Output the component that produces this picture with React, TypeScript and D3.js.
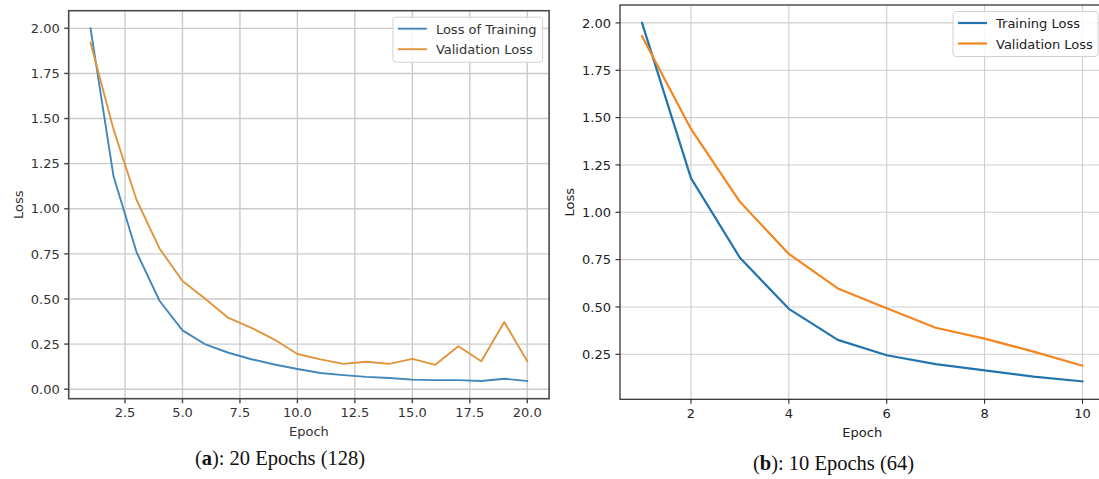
import React from "react";
import * as d3 from "d3";

// ---------- data ----------
const epochs20 = [1, 2, 3, 4, 5, 6, 7, 8, 9, 10, 11, 12, 13, 14, 15, 16, 17, 18, 19, 20];
const trainLoss20 = [2.0, 1.18, 0.76, 0.49, 0.326, 0.248, 0.202, 0.166, 0.137, 0.112, 0.09, 0.078, 0.068, 0.062, 0.053, 0.05, 0.05, 0.045, 0.058, 0.045];
const valLoss20 = [1.92, 1.44, 1.05, 0.78, 0.6, 0.5, 0.395, 0.34, 0.275, 0.195, 0.165, 0.14, 0.152, 0.14, 0.168, 0.135, 0.238, 0.155, 0.372, 0.155];
const xTicks20 = [2.5, 5.0, 7.5, 10.0, 12.5, 15.0, 17.5, 20.0];
const yTicks20 = [0, 0.25, 0.5, 0.75, 1.0, 1.25, 1.5, 1.75, 2.0];
const legend20 = ["Loss of Training", "Validation Loss"];

const epochs10 = [1, 2, 3, 4, 5, 6, 7, 8, 9, 10];
const trainLoss10 = [2.0, 1.18, 0.76, 0.49, 0.326, 0.245, 0.198, 0.165, 0.132, 0.107];
const valLoss10 = [1.93, 1.44, 1.055, 0.78, 0.598, 0.493, 0.39, 0.333, 0.264, 0.19];
const xTicks10 = [2, 4, 6, 8, 10];
const yTicks10 = [0.25, 0.5, 0.75, 1.0, 1.25, 1.5, 1.75, 2.0];
const legend10 = ["Training Loss", "Validation Loss"];

const FONT = "'DejaVu Sans', sans-serif";
const SERIF = "'Liberation Serif', 'Times New Roman', serif";

type Props = {
  epochs: number[];
  train: number[];
  val: number[];
  xTicks: number[];
  yTicks: number[];
  xFmt: string;
  legend: string[];
  box: { left: number; right: number; top: number; bottom: number };
  colors: { train: string; val: string; text: string; spine: string; grid: string };
  lw: number;
  spineW: number;
  gridW: number;
  legendW: number;
  yLabelX: number;
  xLabelY: number;
  captionX: number;
  captionY: number;
  captionTag: string;
  captionRest: string;
  clipId: string;
};

function pad(min: number, max: number): [number, number] {
  const s = max - min;
  return [min - 0.05 * s, max + 0.05 * s];
}

function LossChart(p: Props) {
  const { box, colors } = p;
  const all = p.train.concat(p.val);
  const x = d3
    .scaleLinear()
    .domain(pad(d3.min(p.epochs)!, d3.max(p.epochs)!))
    .range([box.left, box.right]);
  const y = d3
    .scaleLinear()
    .domain(pad(d3.min(all)!, d3.max(all)!))
    .range([box.bottom, box.top]);
  const line = d3
    .line<number>()
    .x((_, i) => x(p.epochs[i]))
    .y((d) => y(d));
  const xf = d3.format(p.xFmt);
  const yf = d3.format(".2f");
  const tickLen = 4.5;
  const lgRight = box.right - 6.5;
  const lgTop = box.top + 6.5;
  const lgLeft = lgRight - p.legendW;
  const rows = [lgTop + 11.5, lgTop + 32];
  return (
    <g>
      <defs>
        <clipPath id={p.clipId}>
          <rect x={box.left} y={box.top} width={box.right - box.left} height={box.bottom - box.top} />
        </clipPath>
      </defs>
      {/* grid */}
      {p.xTicks.map((t) => (
        <line key={"gx" + t} x1={x(t)} x2={x(t)} y1={box.top} y2={box.bottom} stroke={colors.grid} strokeWidth={p.gridW} />
      ))}
      {p.yTicks.map((t) => (
        <line key={"gy" + t} x1={box.left} x2={box.right} y1={y(t)} y2={y(t)} stroke={colors.grid} strokeWidth={p.gridW} />
      ))}
      {/* series */}
      <g clipPath={`url(#${p.clipId})`}>
        <path d={line(p.train)!} fill="none" stroke={colors.train} strokeWidth={p.lw} strokeLinejoin="round" strokeLinecap="square" />
        <path d={line(p.val)!} fill="none" stroke={colors.val} strokeWidth={p.lw} strokeLinejoin="round" strokeLinecap="square" />
      </g>
      {/* frame */}
      <rect x={box.left} y={box.top} width={box.right - box.left} height={box.bottom - box.top} fill="none" stroke={colors.spine} strokeWidth={p.spineW} />
      {/* x ticks */}
      {p.xTicks.map((t) => (
        <g key={"xt" + t}>
          <line x1={x(t)} x2={x(t)} y1={box.bottom} y2={box.bottom + tickLen} stroke={colors.spine} strokeWidth={p.spineW * 0.9} />
          <text x={x(t)} y={box.bottom + 18.5} textAnchor="middle" fontFamily={FONT} fontSize={13} fill={colors.text}>
            {xf(t)}
          </text>
        </g>
      ))}
      {/* y ticks */}
      {p.yTicks.map((t) => (
        <g key={"yt" + t}>
          <line x1={box.left - tickLen} x2={box.left} y1={y(t)} y2={y(t)} stroke={colors.spine} strokeWidth={p.spineW * 0.9} />
          <text x={box.left - 9} y={y(t) + 4.7} textAnchor="end" fontFamily={FONT} fontSize={13} fill={colors.text}>
            {yf(t)}
          </text>
        </g>
      ))}
      {/* axis labels */}
      <text x={(box.left + box.right) / 2} y={p.xLabelY} textAnchor="middle" fontFamily={FONT} fontSize={13} fill={colors.text}>
        Epoch
      </text>
      <text
        transform={`translate(${p.yLabelX},${(box.top + box.bottom) / 2}) rotate(-90)`}
        textAnchor="middle"
        fontFamily={FONT}
        fontSize={13}
        fill={colors.text}
      >
        Loss
      </text>
      {/* legend */}
      <rect x={lgLeft} y={lgTop} width={p.legendW} height={45} rx={3} fill="white" fillOpacity={0.85} stroke="#d2d2d2" strokeWidth={1} />
      {[colors.train, colors.val].map((c, i) => (
        <g key={"lg" + i}>
          <line x1={lgLeft + 5} x2={lgLeft + 34} y1={rows[i]} y2={rows[i]} stroke={c} strokeWidth={p.lw} />
          <text x={lgLeft + 43} y={rows[i] + 5} fontFamily={FONT} fontSize={13} fill={colors.text}>
            {p.legend[i]}
          </text>
        </g>
      ))}
      {/* caption */}
      <text x={p.captionX} y={p.captionY} textAnchor="middle" fontFamily={SERIF} fontSize={20.5} fill="#111">
        (<tspan fontWeight="bold">{p.captionTag}</tspan>){p.captionRest}
      </text>
    </g>
  );
}

export default function App() {
  return (
    <svg
      width={1099}
      height={479}
      style={{ position: "absolute", left: 0, top: 0, background: "white" }}
      xmlns="http://www.w3.org/2000/svg"
    >
      <rect x={0} y={0} width={1099} height={479} fill="white" />
      <LossChart
        epochs={epochs20}
        train={trainLoss20}
        val={valLoss20}
        xTicks={xTicks20}
        yTicks={yTicks20}
        xFmt=".1f"
        legend={legend20}
        box={{ left: 68.7, right: 549.1, top: 10.7, bottom: 398.7 }}
        colors={{ train: "#4387ba", val: "#e0953d", text: "#333", spine: "#4a4a4a", grid: "#cbcbcb" }}
        lw={1.9}
        spineW={1.6}
        gridW={1.4}
        legendW={149.7}
        yLabelX={22.7}
        xLabelY={435.5}
        captionX={280}
        captionY={464.5}
        captionTag="a"
        captionRest=": 20 Epochs (128)"
        clipId="clipA"
      />
      <LossChart
        epochs={epochs10}
        train={trainLoss10}
        val={valLoss10}
        xTicks={xTicks10}
        yTicks={yTicks10}
        xFmt="d"
        legend={legend10}
        box={{ left: 620, right: 1104.5, top: 5, bottom: 399.3 }}
        colors={{ train: "#2374ad", val: "#f3861f", text: "#222", spine: "#262626", grid: "#cdcdcd" }}
        lw={2.2}
        spineW={1.2}
        gridW={1.1}
        legendW={145}
        yLabelX={573.7}
        xLabelY={437}
        captionX={833.5}
        captionY={469.5}
        captionTag="b"
        captionRest=": 10 Epochs (64)"
        clipId="clipB"
      />
    </svg>
  );
}
